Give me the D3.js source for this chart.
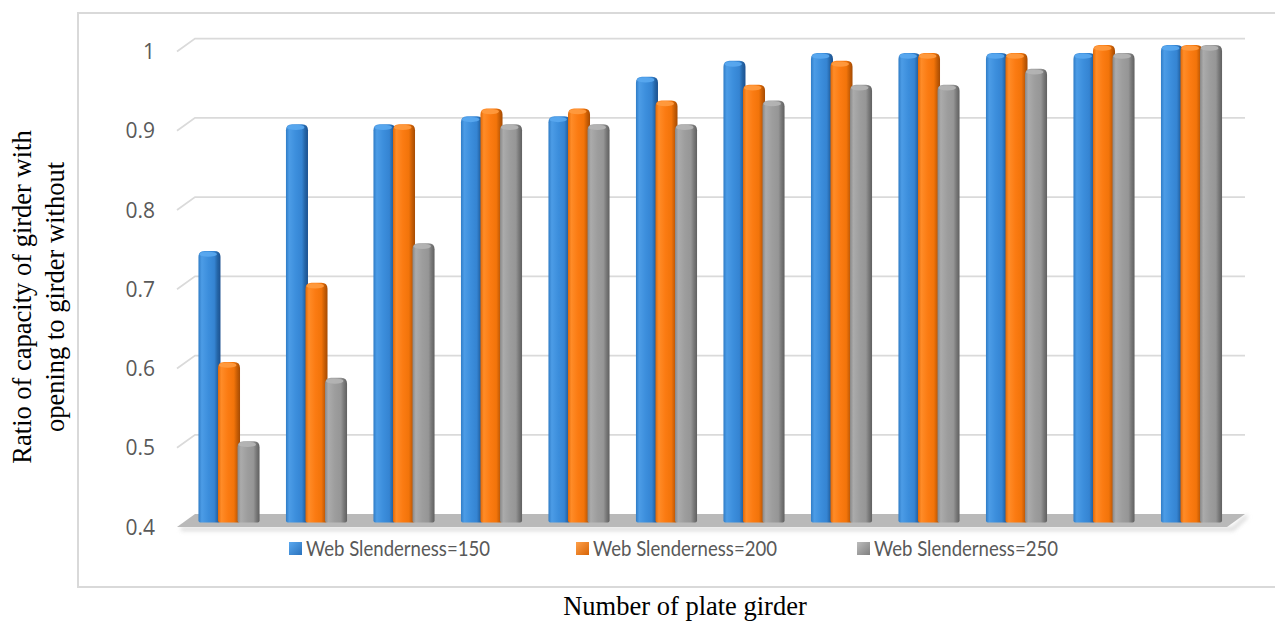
<!DOCTYPE html>
<html>
<head>
<meta charset="utf-8">
<script src="https://cdn.jsdelivr.net/npm/d3@7/dist/d3.min.js"></script>
<style>
  html, body { margin: 0; padding: 0; background: #ffffff; }
  svg { display: block; }
</style>
</head>
<body>
<svg id="chart" width="1275" height="624"></svg>
<script>
// Plate girder numbers (category axis, not labelled)
const girders = ["1","2","3","4","5","6","7","8","9","10","11","12"];
// Series names
const seriesNames = ["Web Slenderness=150", "Web Slenderness=200", "Web Slenderness=250"];
// Capacity ratio (with opening / without opening)
const slender150 = [0.74, 0.90, 0.90, 0.91, 0.91, 0.96, 0.98, 0.99, 0.99, 0.99, 0.99, 1.00];
const slender200 = [0.60, 0.70, 0.90, 0.92, 0.92, 0.93, 0.95, 0.98, 0.99, 0.99, 1.00, 1.00];
const slender250 = [0.50, 0.58, 0.75, 0.90, 0.90, 0.90, 0.93, 0.95, 0.95, 0.97, 0.99, 1.00];
// Value axis ticks
const yTickValues = [0.4, 0.5, 0.6, 0.7, 0.8, 0.9, 1.0];
const yTickLabels = ["0.4", "0.5", "0.6", "0.7", "0.8", "0.9", "1"];

const seriesValues = [slender150, slender200, slender250];

const svg = d3.select("#chart");
const defs = svg.append("defs");

// 3D-ish depth offsets of the back wall relative to the front edge
const depthX = 18, depthY = 13;
const backLeft = 195, backRight = 1245;
const frontLeft = backLeft - depthX, frontRight = backRight - depthX;

const y = d3.scaleLinear().domain([0.4, 1.0]).range([514, 38.5]);

// bars sit half-way into the depth of the plot
const x0 = d3.scaleBand().domain(girders)
  .range([frontLeft + depthX / 2 - 2, frontRight + depthX / 2 - 2]);
const x1 = d3.scaleBand().domain(seriesNames)
  .range([0, x0.bandwidth()]).paddingOuter(0.74);
const barW = x1.step() + 2.5;

const palettes = [
  { id: "gBlue",   stops: ["#2f7cc6", "#4c9ce6", "#3c8edc", "#3584d2", "#2566a8", "#1c5190"], cap: "#5aa8ef", legend: ["#5aa8ef", "#2a72bd"] },
  { id: "gOrange", stops: ["#e06806", "#ff8c28", "#fb7b12", "#f2740a", "#c95e05", "#a54b03"], cap: "#ff9b40", legend: ["#ffa04a", "#d86406"] },
  { id: "gGray",   stops: ["#888888", "#ababab", "#9d9d9d", "#969696", "#787878", "#606060"], cap: "#b5b5b5", legend: ["#bcbcbc", "#808080"] }
];
const stopOffsets = ["0%", "15%", "45%", "72%", "86%", "100%"];

palettes.forEach(p => {
  const g = defs.append("linearGradient").attr("id", p.id)
    .attr("x1", "0%").attr("x2", "100%").attr("y1", "0%").attr("y2", "0%");
  p.stops.forEach((c, i) => g.append("stop").attr("offset", stopOffsets[i]).attr("stop-color", c));
  const lg = defs.append("linearGradient").attr("id", p.id + "Leg")
    .attr("x1", "0%").attr("x2", "100%").attr("y1", "0%").attr("y2", "100%");
  lg.append("stop").attr("offset", "0%").attr("stop-color", p.legend[0]);
  lg.append("stop").attr("offset", "100%").attr("stop-color", p.legend[1]);
});

const floorShadow = defs.append("filter").attr("id", "soft")
  .attr("x", "-5%").attr("y", "-50%").attr("width", "110%").attr("height", "200%");
floorShadow.append("feGaussianBlur").attr("stdDeviation", 2);

// chart frame
svg.append("rect")
  .attr("x", 78).attr("y", 13).attr("width", 1215).attr("height", 574)
  .attr("fill", "#ffffff").attr("stroke", "#d9d9d9").attr("stroke-width", 2);

// gridlines: back wall line plus the short diagonal on the side wall
const grid = svg.append("g").attr("stroke", "#dadada").attr("stroke-width", 1.75).attr("fill", "none");
yTickValues.filter(v => v > 0.4).forEach(v => {
  grid.append("path")
    .attr("d", `M${frontLeft},${y(v) + depthY}L${backLeft},${y(v)}L${backRight},${y(v)}`);
});

// tick labels
svg.append("g").selectAll("text").data(yTickValues).join("text")
  .attr("x", 155).attr("y", d => y(d) + depthY + 2)
  .attr("text-anchor", "end").attr("dominant-baseline", "middle")
  .attr("font-family", "'Open Sans', sans-serif").attr("font-size", 21)
  .attr("fill", "#595959")
  .text((d, i) => yTickLabels[i]);

// floor
const yFloor = y(0.4);
svg.append("path")
  .attr("d", `M${frontLeft + 4},${yFloor + depthY + 2}L${frontRight + 6},${yFloor + depthY + 2}L${backRight + 2},${yFloor + 2}`)
  .attr("fill", "none").attr("stroke", "#cfcfcf").attr("stroke-width", 3).attr("filter", "url(#soft)");
svg.append("path")
  .attr("d", `M${frontLeft},${yFloor + depthY}L${backLeft},${yFloor}L${backRight},${yFloor}L${frontRight},${yFloor + depthY}Z`)
  .attr("fill", "#b9b9b9");

// bars
const bottom = yFloor + depthY / 2 + 2;
function barPath(x, top, w) {
  const r = 6, rb = 2;
  return `M${x},${bottom - rb}` +
    `L${x},${top + r}` +
    `Q${x},${top} ${x + r},${top}` +
    `L${x + w - r},${top}` +
    `Q${x + w},${top} ${x + w},${top + r}` +
    `L${x + w},${bottom - rb}` +
    `Q${x + w},${bottom} ${x + w - rb},${bottom}` +
    `L${x + rb},${bottom}` +
    `Q${x},${bottom} ${x},${bottom - rb}Z`;
}

const groupsSel = svg.append("g").selectAll("g").data(girders).join("g")
  .attr("transform", d => `translate(${x0(d)},0)`);

groupsSel.each(function (g, gi) {
  const sel = d3.select(this);
  seriesNames.forEach((s, si) => {
    const v = seriesValues[si][gi];
    const top = y(v) + depthY / 2;
    const bx = x1(s);
    sel.append("path")
      .attr("d", barPath(bx, top, barW))
      .attr("fill", `url(#${palettes[si].id})`);
    sel.append("ellipse")
      .attr("cx", bx + barW * 0.44).attr("cy", top + 3.2)
      .attr("rx", barW * 0.40).attr("ry", 2.6)
      .attr("fill", palettes[si].cap).attr("opacity", 0.9);
  });
});

// legend
const legendX = [289, 576, 857];
const legend = svg.append("g");
seriesNames.forEach((s, i) => {
  legend.append("rect")
    .attr("x", legendX[i]).attr("y", 542).attr("width", 13).attr("height", 13)
    .attr("fill", `url(#${palettes[i].id}Leg)`);
  legend.append("text")
    .attr("x", legendX[i] + 17).attr("y", 556)
    .attr("font-family", "Lato, 'Open Sans', sans-serif").attr("font-size", 21)
    .attr("textLength", 184).attr("lengthAdjust", "spacingAndGlyphs")
    .attr("fill", "#595959")
    .text(s);
});

// axis titles
svg.append("text")
  .attr("x", 685).attr("y", 615).attr("text-anchor", "middle")
  .attr("font-family", "'Liberation Serif', 'Times New Roman', serif").attr("font-size", 26.5)
  .attr("fill", "#000000")
  .text("Number of plate girder");

const yTitle = svg.append("text")
  .attr("transform", "translate(0,297) rotate(-90)")
  .attr("text-anchor", "middle")
  .attr("font-family", "'Liberation Serif', 'Times New Roman', serif").attr("font-size", 26.5)
  .attr("fill", "#000000");
yTitle.append("tspan").attr("x", 0).attr("y", 31).text("Ratio of capacity of girder with");
yTitle.append("tspan").attr("x", 0).attr("y", 64).text("opening to girder without");
</script>
</body>
</html>
